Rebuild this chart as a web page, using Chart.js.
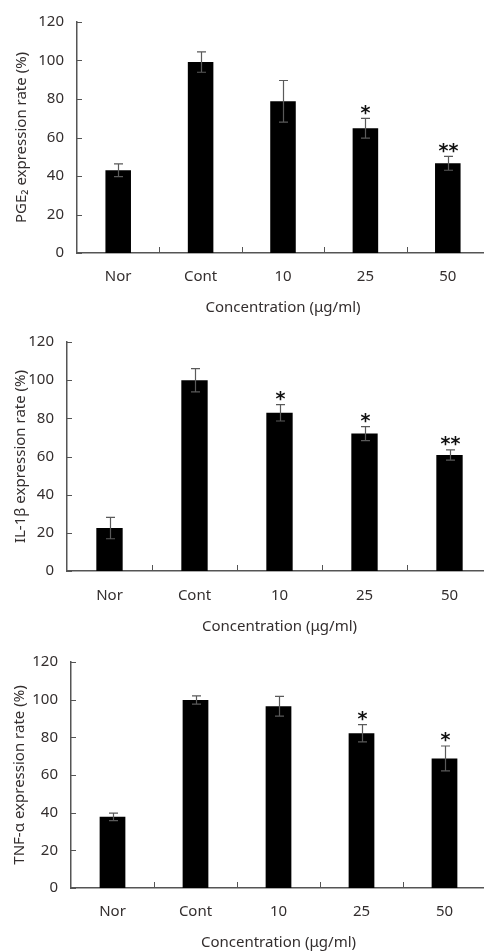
<!DOCTYPE html>
<html>
<head>
<meta charset="utf-8">
<script src="https://cdn.jsdelivr.net/npm/chart.js@4/dist/chart.umd.min.js"></script>
<style>
html,body{margin:0;padding:0;background:#fff;overflow:hidden;width:484px;height:952px;}
.p{position:absolute;left:0;}
</style>
</head>
<body>
<div class="p" style="top:0px"><canvas id="c1" width="489" height="318"></canvas></div>
<div class="p" style="top:320px"><canvas id="c2" width="492" height="318"></canvas></div>
<div class="p" style="top:640px"><canvas id="c3" width="486" height="312"></canvas></div>
<script>
// ---- data ----
const categories = ['Nor', 'Cont', '10', '25', '50'];
const yTicks = [0, 20, 40, 60, 80, 100, 120];
const xTitle = 'Concentration (\u03bcg/ml)';

const pge2Values = [43, 99.2, 78.8, 64.8, 46.6];
const pge2Errors = [3.3, 5.3, 10.8, 5.1, 3.6];
const pge2Marks  = ['', '', '', '*', '**'];

const il1bValues = [22.5, 100, 82.9, 72, 60.8];
const il1bErrors = [5.6, 6.1, 4.3, 3.7, 2.7];
const il1bMarks  = ['', '', '*', '*', '**'];

const tnfValues = [37.8, 99.8, 96.5, 82.2, 68.8];
const tnfErrors = [2, 2.2, 5.2, 4.6, 6.6];
const tnfMarks  = ['', '', '', '*', '*'];

// ---- drawing ----
const FONT = "'Noto Sans', 'DejaVu Sans', sans-serif";
const FS = 15;
const HALF = FS * 1.2 / 2;
const TXT = '#332e2e';
const AX = '#555555';

const errorBarPlugin = {
  id: 'errorBars',
  afterDatasetsDraw(chart) {
    const ctx = chart.ctx;
    const y = chart.scales.y, x = chart.scales.x;
    const meta = chart.getDatasetMeta(0);
    const ds = chart.data.datasets[0];
    ctx.save();
    ctx.strokeStyle = AX; ctx.lineWidth = 1;
    yTicks.forEach(t => {
      const py = Math.round(y.getPixelForValue(t)) + 0.5;
      ctx.beginPath(); ctx.moveTo(x.left, py); ctx.lineTo(x.left + 5, py); ctx.stroke();
    });
    for (let i = 1; i < categories.length; i++) {
      const px = Math.round((meta.data[i - 1].x + meta.data[i].x) / 2) + 0.5;
      ctx.beginPath(); ctx.moveTo(px, y.bottom); ctx.lineTo(px, y.bottom - 6); ctx.stroke();
    }
    ctx.strokeStyle = '#5a5a5a'; ctx.lineWidth = 1.2;
    meta.data.forEach((bar, i) => {
      const v = ds.data[i], e = ds.errors[i];
      const top = y.getPixelForValue(v + e), bot = y.getPixelForValue(v - e);
      const bx = Math.round(bar.x) + 0.5;
      ctx.beginPath();
      ctx.moveTo(bx, top); ctx.lineTo(bx, bot);
      ctx.moveTo(bx - 4.5, top); ctx.lineTo(bx + 4.5, top);
      ctx.moveTo(bx - 4.5, bot); ctx.lineTo(bx + 4.5, bot);
      ctx.stroke();
      const m = ds.marks[i];
      if (m) {
        ctx.fillStyle = '#111';
        ctx.font = "bold 19px 'DejaVu Sans', sans-serif";
        ctx.textAlign = 'center';
        ctx.textBaseline = 'alphabetic';
        ctx.fillText(m, bx, top + 0.5);
      }
    });
    ctx.restore();
  }
};

function makeChart(id, values, errors, marks, yTitle, g) {
  const canvas = document.getElementById(id);
  const H = canvas.height;
  return new Chart(canvas, {
    type: 'bar',
    data: {
      labels: categories,
      datasets: [{
        data: values,
        errors: errors,
        marks: marks,
        backgroundColor: '#000000',
        borderWidth: 0,
        barPercentage: 0.31,
        categoryPercentage: 1.0
      }]
    },
    options: {
      responsive: false,
      animation: false,
      devicePixelRatio: 1,
      layout: { padding: { top: g.top, left: 0, right: 0, bottom: 0 } },
      plugins: { legend: { display: false }, tooltip: { enabled: false } },
      scales: {
        x: {
          type: 'category',
          offset: true,
          grid: { display: false, drawTicks: false, tickLength: 0, offset: true },
          border: { display: true, color: AX, width: 1.5 },
          ticks: { color: TXT, font: { family: FONT, size: FS }, padding: g.xPad, maxRotation: 0 },
          title: { display: true, text: xTitle, color: TXT, font: { family: FONT, size: FS },
                   padding: { top: 0, bottom: H - g.xTitleY - HALF } },
          afterFit: s => { s.height = H - g.bottom; }
        },
        y: {
          min: 0, max: 120,
          afterBuildTicks: s => { s.ticks = yTicks.map(v => ({ value: v })); },
          grid: { display: false, drawTicks: false, tickLength: 0 },
          border: { display: true, color: AX, width: 1.5 },
          ticks: { color: TXT, font: { family: FONT, size: FS }, padding: 13 },
          title: { display: true, text: yTitle, color: TXT, font: { family: FONT, size: FS },
                   padding: { top: g.yTitleX - HALF, bottom: 0 } },
          afterFit: s => { s.width = g.left; }
        }
      }
    },
    plugins: [errorBarPlugin]
  });
}

makeChart('c1', pge2Values, pge2Errors, pge2Marks, 'PGE\u2082 expression rate (%)',
  { top: 16, bottom: 253, left: 77, xPad: 14.5, xTitleY: 308, yTitleX: 22 });
makeChart('c2', il1bValues, il1bErrors, il1bMarks, 'IL-1\u03b2 expression rate (%)',
  { top: 15, bottom: 251, left: 67, xPad: 16, xTitleY: 307, yTitleX: 20.5 });
makeChart('c3', tnfValues, tnfErrors, tnfMarks, 'TNF-\u03b1 expression rate (%)',
  { top: 14, bottom: 248, left: 71, xPad: 14.5, xTitleY: 303, yTitleX: 20 });
</script>
</body>
</html>
